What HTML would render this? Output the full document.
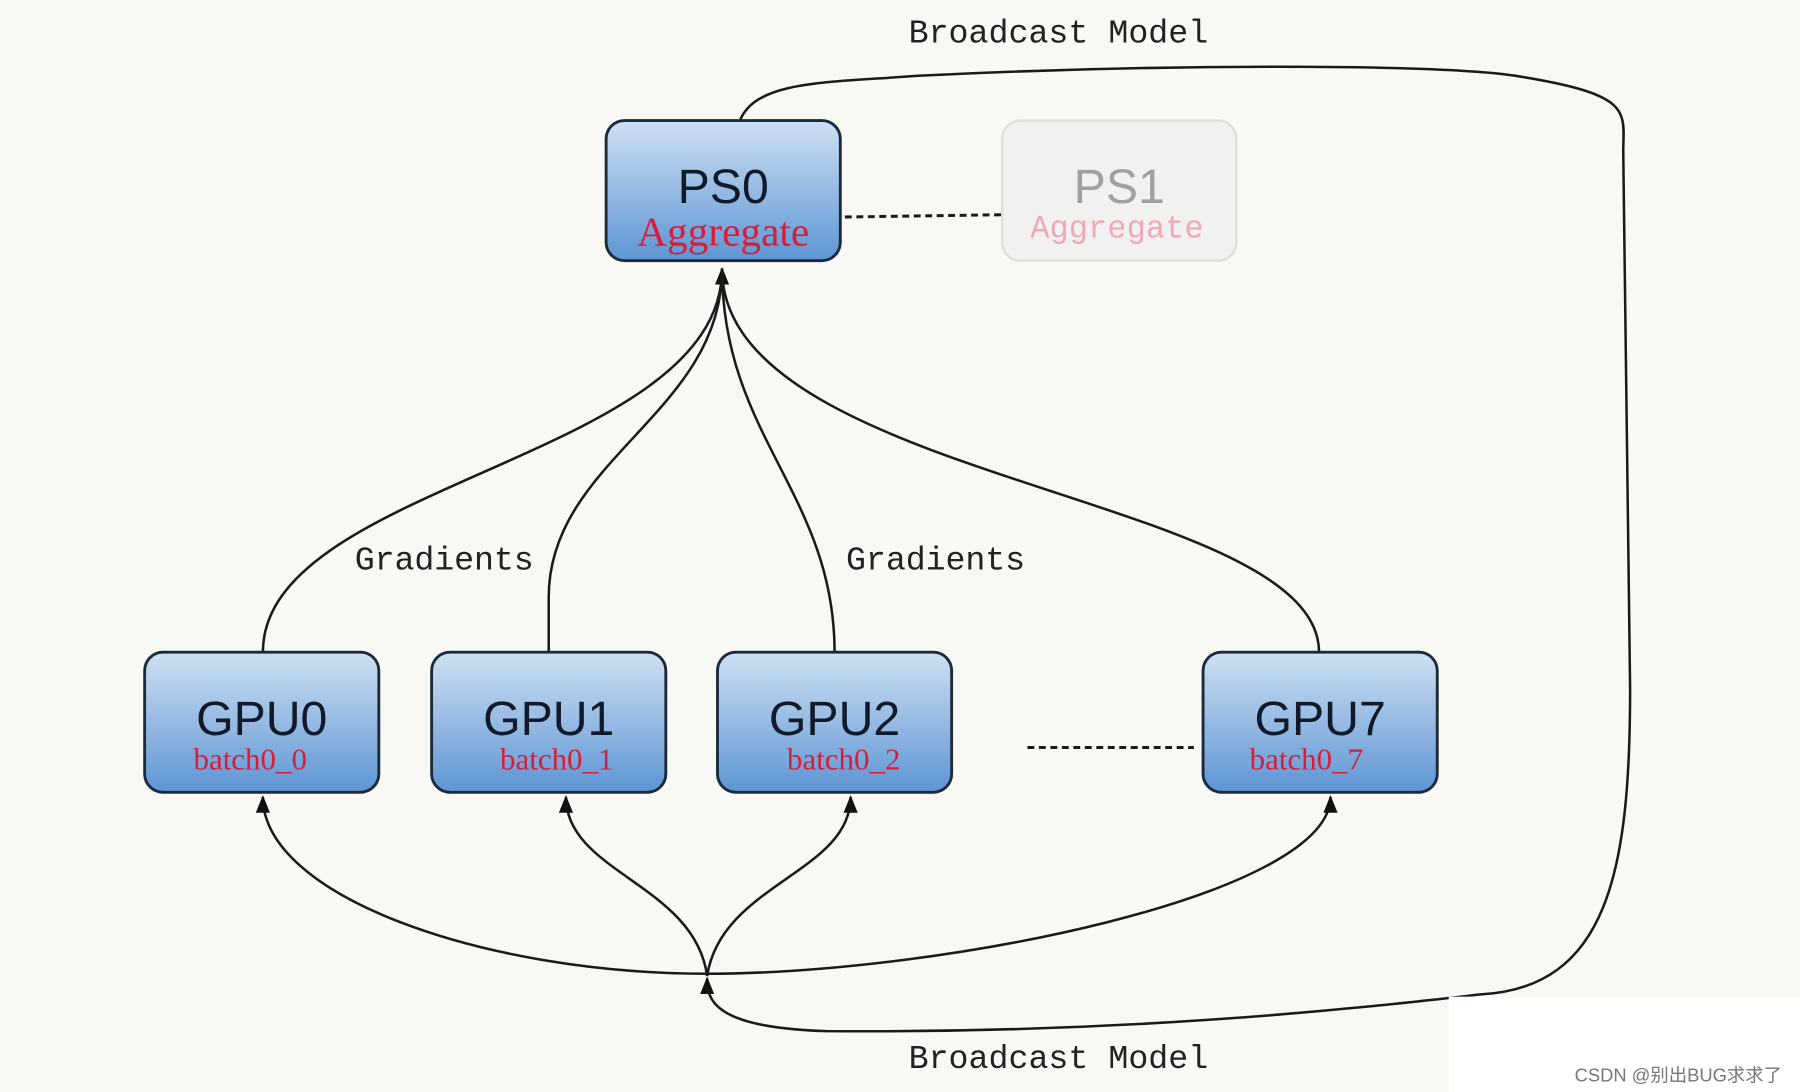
<!DOCTYPE html>
<html><head><meta charset="utf-8"><style>
html,body{margin:0;padding:0;background:#f8f8f4;}
svg{display:block}
</style></head><body>
<svg width="1800" height="1092" viewBox="0 0 1568 951" preserveAspectRatio="none" xmlns="http://www.w3.org/2000/svg">
<defs>
<linearGradient id="g" x1="0" y1="0" x2="0" y2="1">
<stop offset="0" stop-color="#cfe0f2"/><stop offset="1" stop-color="#5d95d4"/>
</linearGradient>
<marker id="a" viewBox="0 0 10 10" refX="9" refY="5" markerWidth="7" markerHeight="7" orient="auto"><path d="M0,1 L10,5 L0,9 z" fill="#111"/></marker>
</defs>
<rect width="1568" height="951" fill="#f8f8f4"/>
<g fill="none" stroke="#1a1a1a" stroke-width="2.2">
<path d="M229,568 C229,420 629,400 629,234" marker-end="url(#a)"/>
<path d="M478,568 L478,520 C478,400 629,360 629,234"/>
<path d="M727,568 C727,430 629,380 629,234"/>
<path d="M1149,568 C1149,430 629,420 629,234"/>
<path d="M616,848 C420,848 229,780 229,694" marker-end="url(#a)"/>
<path d="M616,848 C820,848 1159,780 1159,694" marker-end="url(#a)"/>
<path d="M616,850 C605,770 493,760 493,694" marker-end="url(#a)"/>
<path d="M616,850 C628,770 741,760 741,694" marker-end="url(#a)"/>
<path d="M645,104 C660,70 720,72 800,66 C1000,56 1250,55 1320,66 C1420,82 1415,95 1414,130 L1420,600 C1420,760 1400,860 1290,866 C1200,876 1000,900 720,898 C620,895 616,870 616,852" marker-end="url(#a)"/>
<path d="M736,189 L872,187" stroke-dasharray="6,4" stroke-width="2.6"/>
<path d="M895,651 L1040,651" stroke-dasharray="6,4" stroke-width="2.6"/>
</g>
<rect x="528" y="105" width="204" height="122" rx="16" fill="url(#g)" stroke="#1d2a3a" stroke-width="2.5"/>
<rect x="873" y="105" width="204" height="122" rx="16" fill="#f1f1f1" stroke="#dcdcdc" stroke-width="2"/>
<rect x="126" y="568" width="204" height="122" rx="16" fill="url(#g)" stroke="#1d2a3a" stroke-width="2.5"/>
<rect x="376" y="568" width="204" height="122" rx="16" fill="url(#g)" stroke="#1d2a3a" stroke-width="2.5"/>
<rect x="625" y="568" width="204" height="122" rx="16" fill="url(#g)" stroke="#1d2a3a" stroke-width="2.5"/>
<rect x="1048" y="568" width="204" height="122" rx="16" fill="url(#g)" stroke="#1d2a3a" stroke-width="2.5"/>
<g font-family="Liberation Sans, sans-serif" font-size="42" fill="#111a2a" text-anchor="middle">
<text x="630" y="177">PS0</text>
<text x="975" y="177" fill="#a0a0a0">PS1</text>
<text x="228" y="640">GPU0</text>
<text x="478" y="640">GPU1</text>
<text x="727" y="640">GPU2</text>
<text x="1150" y="640">GPU7</text>
</g>
<g font-family="Liberation Serif, serif" fill="#d41f3a" text-anchor="middle">
<text x="630" y="214" font-size="36">Aggregate</text>
<text x="218" y="670" font-size="27">batch0_0</text>
<text x="485" y="670" font-size="27">batch0_1</text>
<text x="735" y="670" font-size="27">batch0_2</text>
<text x="1138" y="670" font-size="27">batch0_7</text>
</g>
<text x="973" y="207" font-family="Liberation Mono, monospace" font-size="28" fill="#f0a8b4" text-anchor="middle">Aggregate</text>
<g font-family="Liberation Mono, monospace" font-size="29" fill="#222" text-anchor="middle">
<text x="922" y="37" textLength="261">Broadcast Model</text>
<text x="922" y="930" textLength="261">Broadcast Model</text>
<text x="387" y="496" textLength="156">Gradients</text>
<text x="815" y="496" textLength="156">Gradients</text>
</g>
<rect x="1262" y="868" width="306" height="83" fill="#ffffff"/>
<text x="1462" y="942" font-family="Liberation Sans, 'Noto Sans CJK SC', sans-serif" font-size="16" fill="#777" text-anchor="middle">CSDN @别出BUG求求了</text>
</svg>
</body></html>
